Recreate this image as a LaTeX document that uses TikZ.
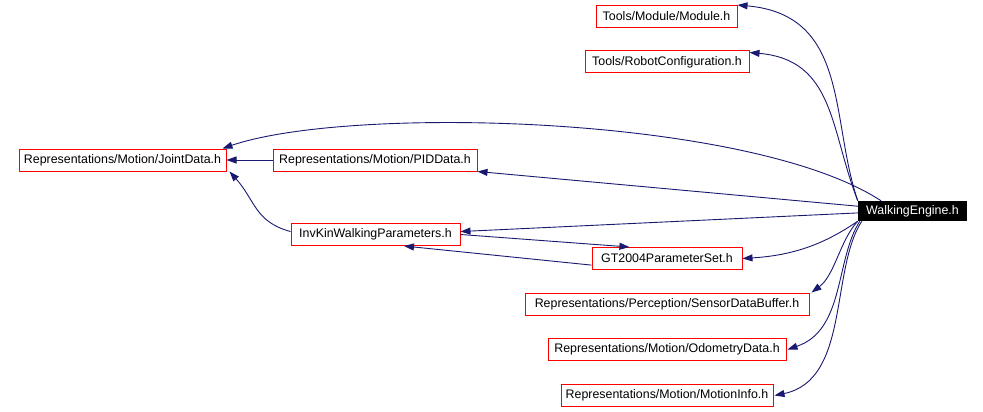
\documentclass[tikz,border=0pt]{standalone}
\usepackage{fontspec}
\setmainfont{Liberation Sans}
\usepackage{xcolor}
\usepackage{tikz}
\usetikzlibrary{arrows.meta, positioning}
\definecolor{edgeblue}{HTML}{191970}
\tikzstyle{header} = [rectangle, minimum height=22pt, inner sep=0pt, text centered, draw=red, line width=1pt, font=\fontsize{12.4}{14}\selectfont]
\tikzstyle{current} = [rectangle, minimum height=20pt, inner sep=0pt, text centered, fill=black, text=white, font=\fontsize{12.4}{14}\selectfont]
\tikzstyle{arrow} = [edgeblue, line width=0.9pt, -{Triangle[length=10pt,width=7pt]}]

\begin{document}
\begin{tikzpicture}[x=1pt, y=-1pt]
				\useasboundingbox (0,0) rectangle (983,412);
				
				\node (we) [current, minimum width=109pt] at (912.5,211) {WalkingEngine.h};
				\node (module) [header, minimum width=141pt] at (666.5,16.5) {Tools/Module/Module.h};
				\node (robotcfg) [header, minimum width=164pt] at (667,62) {Tools/RobotConfiguration.h};
				\node (jointdata) [header, minimum width=207pt] at (122.5,160) {Representations/Motion/JointData.h};
				\node (piddata) [header, minimum width=204pt] at (375,160) {Representations/Motion/PIDData.h};
				\node (invkin) [header, minimum width=169pt] at (375.5,234.5) {InvKinWalkingParameters.h};
				\node (gt2004) [header, minimum width=150pt] at (667,258.5) {GT2004ParameterSet.h};
				\node (sensorbuf) [header, minimum width=284pt] at (667,304) {Representations/Perception/SensorDataBuffer.h};
				\node (odometry) [header, minimum width=238pt] at (667,349.5) {Representations/Motion/OdometryData.h};
				\node (motioninfo) [header, minimum width=212pt] at (667,395.5) {Representations/Motion/MotionInfo.h};
				
				% includes of WalkingEngine.h
				\draw [arrow] (we.north west) .. controls (830,120) and (850,15) .. (module.north east);
				\draw [arrow] (we.north west) .. controls (830,130) and (835,60) .. ([yshift=-2pt]robotcfg.north east);
				\draw [arrow] (we.162) .. controls (750,115) and (350,105) .. ([xshift=-4pt]jointdata.north east);
				\draw [arrow] (we.175) -- (piddata.south east);
				\draw [arrow] (we.182) -- (invkin.2);
				\draw [arrow] (we.south west) .. controls (830,240) and (800,255) .. (gt2004.east);
				\draw [arrow] (we.south west) .. controls (840,240) and (835,275) .. ([xshift=2pt]sensorbuf.north east);
				\draw [arrow] ([xshift=2pt]we.south west) .. controls (835,260) and (845,330) .. ([xshift=1pt]odometry.east);
				\draw [arrow] ([xshift=4pt]we.south west) .. controls (830,270) and (850,380) .. ([xshift=1pt]motioninfo.east);
				
				% includes between the headers
				\draw [arrow] (piddata.west) -- (jointdata.east);
				\draw [arrow] (invkin.178) .. controls (255,222) and (255,200) .. ([xshift=3pt]jointdata.south east);
				\draw [arrow] (invkin.east) -- (gt2004.163);
				\draw [arrow] (gt2004.185) -- (invkin.-22);
				
			\end{tikzpicture}
\end{document}
